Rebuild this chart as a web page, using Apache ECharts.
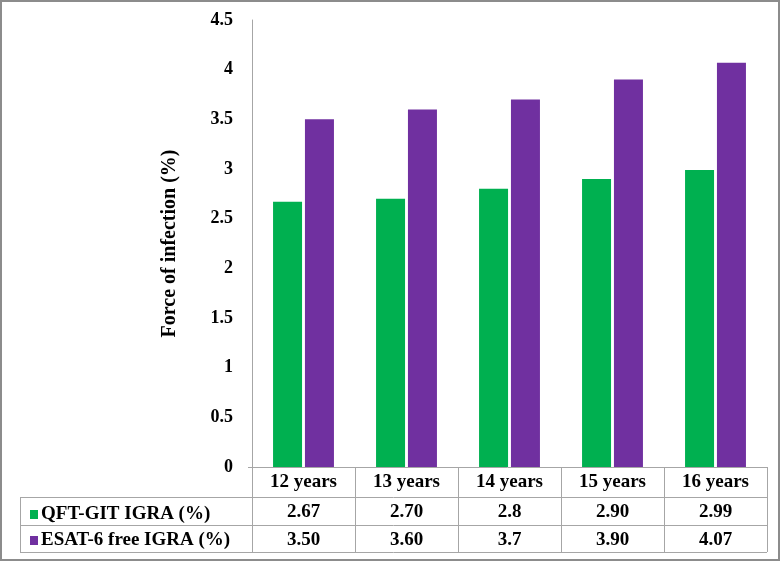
<!DOCTYPE html>
<html><head><meta charset="utf-8">
<script src="https://cdn.jsdelivr.net/npm/echarts@6/dist/echarts.min.js"></script>
<style>html,body{margin:0;padding:0;background:#fff}#c{width:781px;height:562px}</style>
</head><body><div id="c"></div>
<script>
const categories = ['12 years','13 years','14 years','15 years','16 years'];
const seriesNames = ['QFT-GIT IGRA (%)','ESAT-6 free IGRA (%)'];
const qftValues = [2.67, 2.70, 2.8, 2.90, 2.99];
const esatValues = [3.50, 3.60, 3.7, 3.90, 4.07];
const qftLabels = ['2.67','2.70','2.8','2.90','2.99'];
const esatLabels = ['3.50','3.60','3.7','3.90','4.07'];
const yTicks = {min: 0, max: 4.5, interval: 0.5};

const FONT = '"Liberation Serif","Times New Roman",serif';
const GREEN = '#00B050', PURPLE = '#7030A0', LINE = '#a6a6a6';
const chart = echarts.init(document.getElementById('c'));
const G = {left: 252, right: 14, top: 20, bottom: 95};
const plotBottom = 562 - G.bottom, plotRight = 781 - G.right;
const rowH = [30, 28, 27];
const colW = (plotRight - G.left) / categories.length;

const graphics = [];
graphics.push({type:'rect', shape:{x:1,y:1,width:778,height:559}, style:{fill:null, stroke:'#8c8c8c', lineWidth:2}, silent:true});
const y1 = plotBottom, y2 = y1 + rowH[0], y3 = y2 + rowH[1], y4 = y3 + rowH[2];
const hl = (x1,x2,y)=>graphics.push({type:'line', shape:{x1,y1:y+0.5,x2,y2:y+0.5}, style:{stroke:LINE,lineWidth:1}, silent:true});
const vl = (x,ya,yb)=>graphics.push({type:'line', shape:{x1:x,y1:ya,x2:x,y2:yb}, style:{stroke:LINE,lineWidth:1}, silent:true});
hl(G.left-4, plotRight, y1);
hl(20, plotRight, y2); hl(20, plotRight, y3); hl(20, plotRight, y4);
for (let i = 0; i <= categories.length; i++) vl(Math.round(G.left + i*colW)+0.5, y1, y4);
vl(20.5, y2, y4);

const labelStyle = {fontFamily: FONT, fontWeight: 'bold', fontSize: 19, color: '#000'};
function tableAxis(data, offset) {
  return {type:'category', data, position:'bottom', offset, gridIndex:0,
    axisLine:{show:false}, axisTick:{show:false},
    axisLabel:Object.assign({margin:6, interval:0}, labelStyle)};
}

chart.setOption({
  animation:false,
  backgroundColor:'#fff',
  grid: G,
  legend: {
    orient:'vertical', left: 25, top: y2 + 3, itemGap: 7,
    itemWidth: 8, itemHeight: 9, icon:'rect',
    textStyle: Object.assign({padding:[0,0,0,-2]}, labelStyle),
    data: seriesNames
  },
  xAxis: [
    tableAxis(categories, 0),
    tableAxis(qftLabels, rowH[0]),
    tableAxis(esatLabels, rowH[0]+rowH[1])
  ],
  yAxis: {
    type:'value', min:yTicks.min, max:yTicks.max, interval:yTicks.interval,
    name:'Force of infection (%)', nameLocation:'middle', nameGap:72,
    nameTextStyle:{fontFamily:FONT, fontWeight:'bold', fontSize:20, color:'#000'},
    axisLine:{show:true, lineStyle:{color:LINE}}, axisTick:{show:false},
    splitLine:{show:false},
    axisLabel: {margin:19, fontFamily:FONT, fontWeight:'bold', fontSize:18, color:'#000'}
  },
  series: [
    {name:seriesNames[0], type:'bar', data:qftValues, itemStyle:{color:GREEN}, barWidth:29, barGap:'10%'},
    {name:seriesNames[1], type:'bar', data:esatValues, itemStyle:{color:PURPLE}, barWidth:29}
  ],
  graphic: graphics
});
</script></body></html>
